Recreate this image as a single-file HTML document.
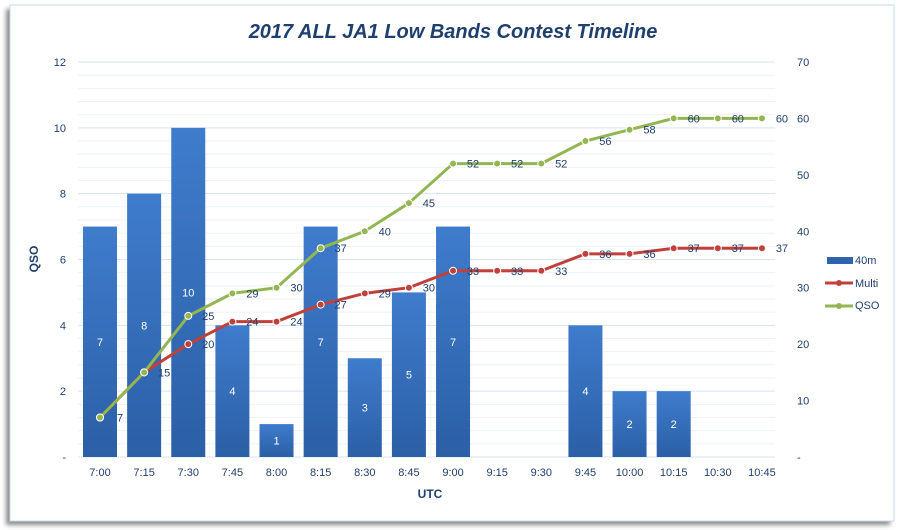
<!DOCTYPE html>
<html><head><meta charset="utf-8"><style>
body{margin:0;background:#fff;width:900px;height:530px;overflow:hidden}
svg{display:block;font-family:"Liberation Sans",sans-serif}
</style></head><body>
<svg id="s" width="900" height="530" xmlns="http://www.w3.org/2000/svg">
<defs>
<linearGradient id="bg" x1="0" y1="0" x2="0" y2="1"><stop offset="0" stop-color="#3f7ccc"/><stop offset="1" stop-color="#2b5fa6"/></linearGradient>
<filter id="sh" x="-5%" y="-5%" width="110%" height="110%"><feGaussianBlur stdDeviation="2.5"/></filter>
</defs>
<rect x="6" y="9" width="884" height="516" fill="#8a8a8a" filter="url(#sh)"/>
<rect x="10" y="5" width="884" height="516" fill="#fff" stroke="#c5d8ee" stroke-width="1"/>
<text x="453" y="38" text-anchor="middle" font-size="20" font-weight="bold" font-style="italic" fill="#1f3f6e">2017 ALL JA1 Low Bands Contest Timeline</text>
<g id="g"></g>
</svg>
<script>
var g=document.getElementById('g'),h='';
function X(i){return 100+44.13*i}
function YL(v){return 457-32.92*v}
function YR(v){return 457-5.643*v}
for(var k=0;k<=30;k++){var y=457-k*13.167;var maj=k%5==0;
h+='<line x1="78" x2="775" y1="'+y+'" y2="'+y+'" stroke="'+(maj?'#d6e3f2':'#eef2f8')+'" stroke-width="1"/>';}
for(var k=0;k<=6;k++){h+='<text x="66" y="'+(YL(k*2)+4)+'" text-anchor="end" font-size="11" fill="#1f3f6e">'+(k?k*2:'-')+'</text>';}
for(var k=0;k<=7;k++){h+='<text x="797" y="'+(YR(k*10)+4)+'" font-size="11" fill="#1f3f6e">'+(k?k*10:'-')+'</text>';}
var bars=[7,8,10,4,1,7,3,5,7,0,0,4,2,2,0,0];
var multi=[7,15,20,24,24,27,29,30,33,33,33,36,36,37,37,37];
var qso=[7,15,25,29,30,37,40,45,52,52,52,56,58,60,60,60];
var lab=['7:00','7:15','7:30','7:45','8:00','8:15','8:30','8:45','9:00','9:15','9:30','9:45','10:00','10:15','10:30','10:45'];
for(var i=0;i<16;i++){var x=X(i);
if(bars[i]){var t=YL(bars[i]);h+='<rect x="'+(x-17)+'" y="'+t+'" width="34" height="'+(457-t)+'" fill="url(#bg)"/>';
h+='<text x="'+x+'" y="'+((t+457)/2+4)+'" text-anchor="middle" font-size="11" fill="#fff">'+bars[i]+'</text>';}
h+='<text x="'+x+'" y="476" text-anchor="middle" font-size="11" fill="#1f3f6e">'+lab[i]+'</text>';}
function line(d,c,fc){var p='';for(var i=0;i<16;i++)p+=(i?'L':'M')+X(i)+','+YR(d[i]);
h+='<path d="'+p+'" fill="none" stroke="'+c+'" stroke-width="3"/>';
for(var i=0;i<16;i++)h+='<circle cx="'+X(i)+'" cy="'+YR(d[i])+'" r="3.5" fill="'+fc+'" stroke="#fff" stroke-width="1"/>';}
line(multi,'#c0413b','#c0413b');line(qso,'#93b552','#93b552');
for(var i=0;i<16;i++){
if(i>=2)h+='<text x="'+(X(i)+20)+'" y="'+(YR(multi[i])+4)+'" text-anchor="middle" font-size="11" fill="#1f3f6e">'+multi[i]+'</text>';
h+='<text x="'+(X(i)+20)+'" y="'+(YR(qso[i])+4)+'" text-anchor="middle" font-size="11" fill="#1f3f6e">'+qso[i]+'</text>';}
h+='<text x="18" y="259" transform="rotate(-90 38 259)" text-anchor="middle" font-size="12" font-weight="bold" fill="#1f3f6e" dx="20" dy="0">QSO</text>';
h+='<text x="430" y="498" text-anchor="middle" font-size="12" font-weight="bold" fill="#1f3f6e">UTC</text>';
h+='<rect x="827" y="257" width="26" height="7" fill="#2e64ad"/><text x="855" y="264" font-size="11" fill="#1f3f6e">40m</text>';
h+='<line x1="825" x2="853" y1="283" y2="283" stroke="#c0413b" stroke-width="3"/><circle cx="839" cy="283" r="3" fill="#c0413b"/><text x="855" y="287" font-size="11" fill="#1f3f6e">Multi</text>';
h+='<line x1="825" x2="853" y1="306" y2="306" stroke="#93b552" stroke-width="3"/><circle cx="839" cy="306" r="3" fill="#93b552"/><text x="855" y="309" font-size="11" fill="#1f3f6e">QSO</text>';
g.innerHTML=h;
</script>
</body></html>
